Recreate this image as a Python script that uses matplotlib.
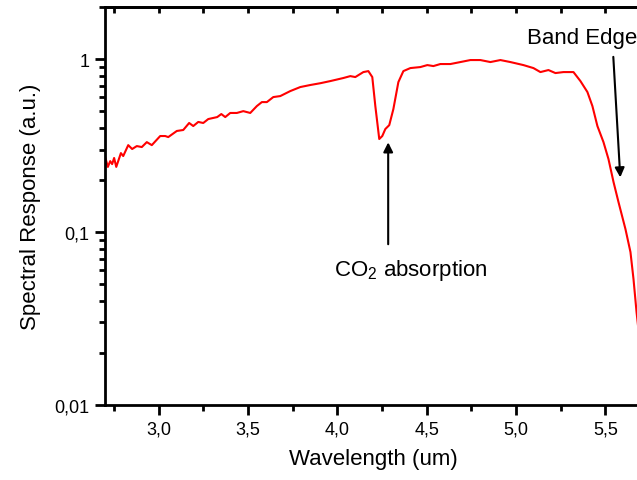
import matplotlib.pyplot as plt
from matplotlib.ticker import FixedLocator, FuncFormatter, LogLocator, NullFormatter

plt.rcParams["font.family"] = ["Liberation Sans", "DejaVu Sans"]
plt.rcParams["mathtext.default"] = "regular"

# spectral response
wavelength = [
    2.695, 2.716, 2.729, 2.740, 2.751, 2.763, 2.789, 2.802, 2.830, 2.852,
    2.878, 2.906, 2.934, 2.962, 3.009, 3.037, 3.054, 3.102, 3.138, 3.171,
    3.194, 3.222, 3.250, 3.278, 3.328, 3.351, 3.373, 3.401, 3.438, 3.474,
    3.513, 3.550, 3.578, 3.606, 3.642, 3.681, 3.737, 3.793, 3.849, 3.905,
    3.961, 4.034, 4.073, 4.101, 4.146, 4.174, 4.196, 4.213, 4.235, 4.252,
    4.269, 4.291, 4.314, 4.342, 4.370, 4.409, 4.465, 4.504, 4.538, 4.577,
    4.633, 4.689, 4.745, 4.801, 4.857, 4.913, 4.969, 5.042, 5.098, 5.137,
    5.182, 5.221, 5.266, 5.322, 5.361, 5.400, 5.428, 5.456, 5.490, 5.518,
    5.546, 5.574, 5.613, 5.641, 5.658, 5.675, 5.700,
]
response = [
    0.286, 0.238, 0.257, 0.247, 0.268, 0.238, 0.286, 0.275, 0.318, 0.302,
    0.314, 0.310, 0.331, 0.318, 0.359, 0.359, 0.354, 0.384, 0.389, 0.427,
    0.410, 0.433, 0.427, 0.450, 0.462, 0.481, 0.462, 0.488, 0.488, 0.500,
    0.488, 0.535, 0.564, 0.564, 0.603, 0.611, 0.653, 0.689, 0.708, 0.725,
    0.746, 0.777, 0.797, 0.787, 0.841, 0.852, 0.787, 0.535, 0.345, 0.359,
    0.394, 0.415, 0.514, 0.736, 0.852, 0.887, 0.899, 0.923, 0.911, 0.936,
    0.936, 0.961, 0.987, 0.987, 0.961, 0.987, 0.961, 0.923, 0.887, 0.841,
    0.864, 0.830, 0.841, 0.841, 0.746, 0.645, 0.535, 0.410, 0.331, 0.264,
    0.195, 0.149, 0.104, 0.0766, 0.0535, 0.0345, 0.020,
]

x_major = [3.0, 3.5, 4.0, 4.5, 5.0, 5.5]
x_minor = [2.75, 3.25, 3.75, 4.25, 4.75, 5.25]
y_major = [0.01, 0.1, 1]

fig = plt.figure(figsize=(6.37, 4.81), dpi=100)
ax = fig.add_axes([105 / 637, 75 / 481, 536 / 637, 398 / 481])

ax.plot(wavelength, response, color="#ff0000", linewidth=1.5)

ax.set_yscale("log")
ax.set_xlim(2.7, 5.7)
ax.set_ylim(0.01, 2.0)

ax.xaxis.set_major_locator(FixedLocator(x_major))
ax.xaxis.set_minor_locator(FixedLocator(x_minor))
ax.xaxis.set_major_formatter(FuncFormatter(lambda v, p: f"{v:.1f}".replace(".", ",")))
ax.yaxis.set_major_locator(FixedLocator(y_major))
ax.yaxis.set_minor_locator(LogLocator(base=10, subs=range(2, 10)))
ax.yaxis.set_major_formatter(FuncFormatter(lambda v, p: f"{v:g}".replace(".", ",")))
ax.yaxis.set_minor_formatter(NullFormatter())

for side in ax.spines.values():
    side.set_linewidth(2)
ax.tick_params(axis="both", which="major", direction="out", length=7, width=2,
               labelsize=13, pad=4)
ax.tick_params(axis="both", which="minor", direction="out", length=4, width=2)

ax.set_xlabel("Wavelength (um)", fontsize=16, labelpad=8)
ax.set_ylabel("Spectral Response (a.u.)", fontsize=16, labelpad=10)

# top ticks point inward on the reference
top = ax.secondary_xaxis("top")
top.xaxis.set_major_locator(FixedLocator(x_major))
top.xaxis.set_minor_locator(FixedLocator(x_minor))
top.tick_params(which="both", direction="in", length=4, width=2, labeltop=False)
top.spines["top"].set_linewidth(2)

arrow = dict(arrowstyle="-|>", color="black", lw=1.5, mutation_scale=14,
             shrinkA=0, shrinkB=0)

ax.text(4.41, 0.072, "CO$_2$ absorption", ha="center", va="top", fontsize=16)
ax.annotate("", xy=(4.285, 0.33), xytext=(4.285, 0.085), arrowprops=arrow)

ax.text(5.06, 1.34, "Band Edge", ha="left", va="center", fontsize=16)
ax.annotate("", xy=(5.584, 0.207), xytext=(5.545, 1.03), arrowprops=arrow)

fig.savefig("out.png", dpi=100)
